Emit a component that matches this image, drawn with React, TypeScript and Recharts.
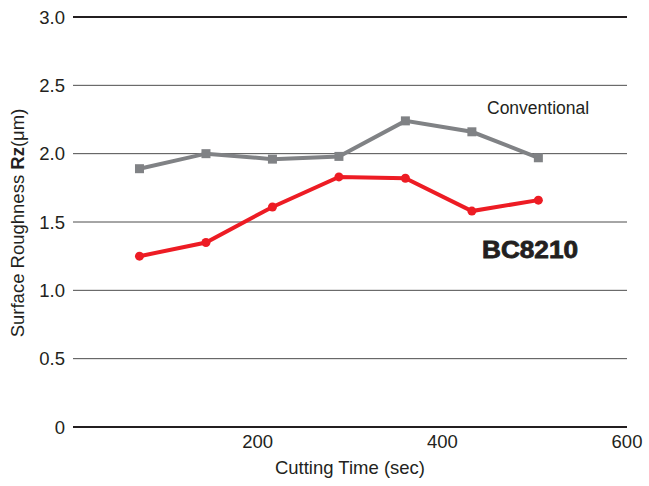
import React from "react";
import {
  LineChart,
  Line,
  XAxis,
  YAxis,
  CartesianGrid,
  ReferenceLine,
  Customized,
} from "recharts";

const times = [72, 144, 216, 288, 360, 432, 504];
const conventional = [1.89, 2.0, 1.96, 1.98, 2.24, 2.16, 1.97];
const bc8210 = [1.25, 1.35, 1.61, 1.83, 1.82, 1.58, 1.66];
const xTicks = [200, 400, 600];
const yTicks = [0, 0.5, 1, 1.5, 2, 2.5, 3];

const data = times.map((t, i) => ({
  t,
  conventional: conventional[i],
  bc8210: bc8210[i],
}));

const GRAY = "#808285";
const RED = "#ed1c24";
const INK = "#231f20";
const FONT = "'Liberation Sans', Arial, Helvetica, sans-serif";

const squareDot = (props: any) => {
  const { cx, cy, index } = props;
  return <rect key={index} x={cx - 4.5} y={cy - 4.5} width={9} height={9} fill={GRAY} />;
};

const roundDot = (props: any) => {
  const { cx, cy, index } = props;
  return <circle key={index} cx={cx} cy={cy} r={4.5} fill={RED} />;
};

// extra texts: rotated y title with bold Rz, and series names
const Annotations = () => (
  <g fontFamily={FONT}>
    <text
      x={24}
      y={223}
      transform="rotate(-90, 24, 223)"
      textAnchor="middle"
      fontSize={18.5}
      fill={INK}
    >
      Surface Roughness <tspan fontWeight="bold">Rz</tspan>(μm)
    </text>
    <text x={487} y={114} fontSize={17.5} fill={INK}>
      Conventional
    </text>
    <text
      x={482}
      y={258}
      fontSize={23}
      fontWeight="bold"
      fill={INK}
      stroke={INK}
      strokeWidth={0.8}
      textLength={96}
      lengthAdjust="spacingAndGlyphs"
    >
      BC8210
    </text>
  </g>
);

export default function App() {
  return (
    <div style={{ position: "absolute", left: 0, top: 0, background: "#fff" }}>
      <LineChart
        width={649}
        height={486}
        data={data}
        margin={{ top: 17, right: 22, left: 0, bottom: 0 }}
        style={{ fontFamily: FONT }}
      >
        <CartesianGrid vertical={false} stroke="#4d4d4d" strokeWidth={1} />
        <XAxis
          type="number"
          dataKey="t"
          domain={[0, 600]}
          ticks={xTicks}
          interval={0}
          axisLine={false}
          tickLine={false}
          height={59}
          tick={{ fill: INK, fontSize: 18.5 }}
          label={{
            value: "Cutting Time (sec)",
            position: "insideBottom",
            offset: 12,
            fill: INK,
            fontSize: 18.5,
          }}
        />
        <YAxis
          type="number"
          domain={[0, 3]}
          ticks={yTicks}
          interval={0}
          axisLine={false}
          tickLine={false}
          width={73}
          tick={{ fill: INK, fontSize: 18.5 }}
          tickFormatter={(v: number) => (v === 0 ? "0" : v.toFixed(1))}
        />
        <ReferenceLine y={3} stroke={INK} strokeWidth={2} />
        <ReferenceLine y={0} stroke={INK} strokeWidth={2} />
        <Line
          type="linear"
          dataKey="conventional"
          stroke={GRAY}
          strokeWidth={4}
          dot={squareDot}
          isAnimationActive={false}
        />
        <Line
          type="linear"
          dataKey="bc8210"
          stroke={RED}
          strokeWidth={4}
          dot={roundDot}
          isAnimationActive={false}
        />
        <Customized component={Annotations} />
      </LineChart>
    </div>
  );
}
